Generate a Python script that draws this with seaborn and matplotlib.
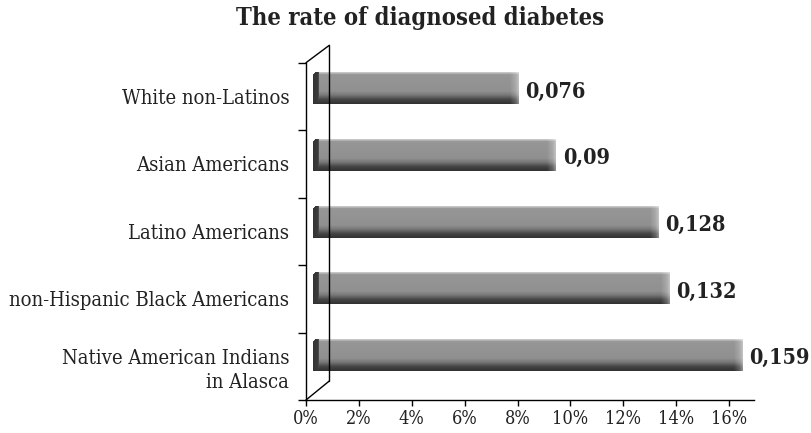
import numpy as np
import pandas as pd
import matplotlib
matplotlib.use("Agg")
import matplotlib.pyplot as plt
from matplotlib.lines import Line2D
import seaborn as sns

# ---- data -------------------------------------------------------------
categories = [
    "White non-Latinos",
    "Asian Americans",
    "Latino Americans",
    "non-Hispanic Black Americans",
    "Native American Indians\nin Alasca",
]
rates = [0.076, 0.09, 0.128, 0.132, 0.159]
x_ticks = [0.0, 0.02, 0.04, 0.06, 0.08, 0.10, 0.12, 0.14, 0.16]
x_tick_labels = ["0%", "2%", "4%", "6%", "8%", "10%", "12%", "14%", "16%"]
title = "The rate of diagnosed diabetes"

# ---- figure setup -----------------------------------------------------
W, H = 812, 433
sns.set_theme(style="white")
plt.rcParams["font.family"] = ["DejaVu Serif"]
plt.rcParams["font.stretch"] = "condensed"

def fx(x):
    return x / W

def fy(y):
    return 1 - y / H

fig = plt.figure(figsize=(W / 100, H / 100), dpi=100)
fig.patch.set_facecolor("white")

# front frame of the pseudo-3D chart: value axis and category axis
ax_f = fig.add_axes([fx(306), fy(400), fx(754) - fx(306), fy(62.7) - fy(400)])
ax_f.set_facecolor("none")
ax_f.set_xlim(0, 0.1694)
ax_f.set_ylim(len(categories), 0)
for side in ("top", "right"):
    ax_f.spines[side].set_visible(False)
for side in ("left", "bottom"):
    ax_f.spines[side].set_color("black")
    ax_f.spines[side].set_linewidth(1.0)
ax_f.set_xticks(x_ticks)
ax_f.set_xticklabels(x_tick_labels, fontsize=13, color="#222222")
ax_f.set_yticks(np.arange(len(categories) + 1))
ax_f.set_yticklabels([])
ax_f.set_yticks(np.arange(len(categories)) + 0.5, minor=True)
ax_f.set_yticklabels(categories, minor=True, fontsize=14.5, color="#222222",
                     linespacing=1.3)
ax_f.tick_params(axis="x", which="major", direction="out", length=4, width=1,
                 color="black", pad=3, bottom=True)
ax_f.tick_params(axis="y", which="major", direction="out", length=6, width=1,
                 color="black", left=True)
ax_f.tick_params(axis="y", which="minor", length=0, pad=12, left=True)
ax_f.grid(False)

# bars sit on the mid-depth plane
ax_b = fig.add_axes([fx(313), fy(388.85), fx(313 + 0.17 * 2700) - fx(313),
                     fy(55.45) - fy(388.85)])
df = pd.DataFrame({"group": categories, "rate": rates})
sns.barplot(data=df, y="group", x="rate", order=categories, color="#8e8e8e",
            saturation=1, width=0.465, orient="h", linewidth=0, ax=ax_b)
ax_b.set_xlim(0, 0.17)
ax_b.set_ylim(len(categories) - 0.5, -0.5)
ax_b.axis("off")

# cylinder-like shading laid over every bar
for p in list(ax_b.patches):
    x0, y0, w, h = p.get_x(), p.get_y(), p.get_width(), p.get_height()
    (px0, py0) = ax_b.transData.transform((x0, y0))
    (px1, py1) = ax_b.transData.transform((x0 + w, y0 + h))
    pw = max(int(round(abs(px1 - px0))), 2)
    ph = max(int(round(abs(py1 - py0))), 2)
    r = (np.arange(ph) + 0.5) / ph
    vert = np.interp(r, [0, 0.04, 0.08, 0.6, 0.72, 0.86, 1.0],
                     [0.82, 0.72, 0.59, 0.565, 0.47, 0.27, 0.19])
    G = np.tile(vert[:, None], (1, pw))
    c = np.arange(pw) + 0.5
    dr = pw - c
    light = np.interp(dr, [0, 1.5, 3, 9], [0.45, 0.35, 0.22, 0.0])
    G = G + (1 - G) * light[None, :]
    capmask = c < 6.5
    G[:, capmask] = np.minimum(G[:, capmask],
                               np.interp(c[capmask], [0, 5, 6.5], [0.20, 0.23, 0.42])[None, :])
    A = np.ones_like(G)
    rr = np.arange(ph)[:, None] + 0.5
    cc = c[None, :]
    rad = 4.0
    corner = (rr < rad) & (cc < rad) & ((rr - rad) ** 2 + (cc - rad) ** 2 > rad ** 2)
    A[corner] = 0
    rgba = np.dstack([G, G, G, A])
    ax_b.imshow(rgba, extent=(x0, x0 + w, y0 + h, y0), origin="upper",
                aspect="auto", interpolation="bilinear", zorder=3)
    p.set_alpha(0)

ax_b.set_xlim(0, 0.17)
ax_b.set_ylim(len(categories) - 0.5, -0.5)

value_labels = [f"{v}".replace(".", ",") for v in rates]
texts = ax_b.bar_label(ax_b.containers[0], labels=value_labels, padding=5,
                       fontsize=15.5, fontweight="bold", color="#222222")
for t in texts:
    t.set_va("center_baseline")

# back wall and floor edges of the 3D frame
frame = [((306, 62.7), (329.3, 45.3)),
         ((329.3, 45.3), (329.3, 381)),
         ((329.3, 381), (306, 400))]
for (a, b) in frame:
    fig.add_artist(Line2D([fx(a[0]), fx(b[0])], [fy(a[1]), fy(b[1])],
                          color="black", lw=1.0, transform=fig.transFigure))

fig.text(fx(420), fy(25), title, ha="center", va="baseline",
         fontsize=17, fontweight="bold", color="#222222")

fig.savefig("out.png", dpi=100, facecolor="white")
